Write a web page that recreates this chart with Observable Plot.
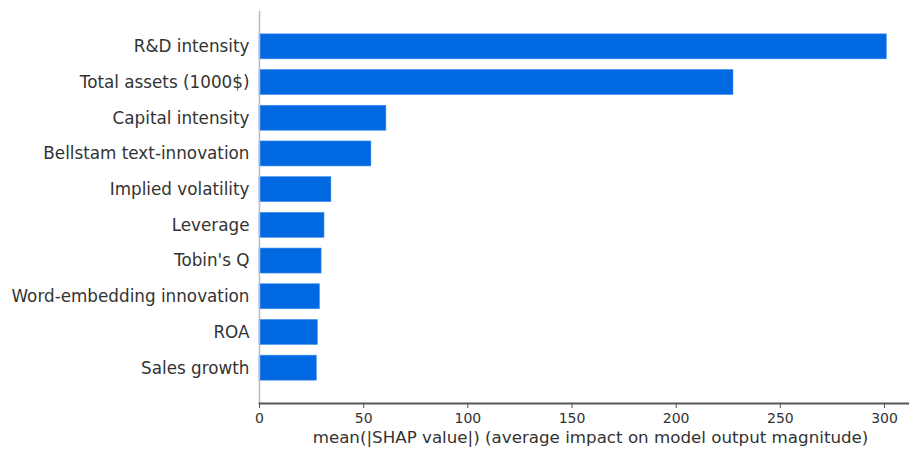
<!DOCTYPE html>
<html>
<head>
<meta charset="utf-8">
<script src="https://cdn.jsdelivr.net/npm/d3@7"></script>
<script src="https://cdn.jsdelivr.net/npm/@observablehq/plot@0.6"></script>
<style>
  html, body { margin: 0; padding: 0; background: white; }
</style>
</head>
<body>
<div id="chart"></div>
<script>
const features = [
  "R&D intensity",
  "Total assets (1000$)",
  "Capital intensity",
  "Bellstam text-innovation",
  "Implied volatility",
  "Leverage",
  "Tobin's Q",
  "Word-embedding innovation",
  "ROA",
  "Sales growth"
];
const values = [301.1, 227.5, 60.9, 53.7, 34.5, 31.2, 29.8, 29.0, 28.0, 27.5];
const xTicks = [0, 50, 100, 150, 200, 250, 300];
const xLabel = "mean(|SHAP value|) (average impact on model output magnitude)";

const data = features.map((f, i) => ({feature: f, value: values[i]}));

const chart = Plot.plot({
  width: 909,
  height: 452,
  marginLeft: 259,
  marginRight: 0,
  marginTop: 11,
  marginBottom: 49,
  style: {fontFamily: "DejaVu Sans", color: "#333", background: "white"},
  x: {domain: [0, 312]},
  y: {domain: features, paddingInner: 0.3, paddingOuter: 0.64, round: false},
  marks: [
    Plot.barX(data, {x: "value", y: "feature", fill: "#0068e0", stroke: "#3d8ff0", strokeWidth: 0.6}),
    Plot.ruleX([0], {stroke: "#bbbbbb", strokeWidth: 1.5}),
    Plot.frame({anchor: "bottom", stroke: "#555", strokeWidth: 2}),
    Plot.axisX({ticks: xTicks, tickSize: 5, tickPadding: 5, fontSize: 14, label: null, stroke: "#555"}),
    Plot.axisY({tickSize: 0, tickPadding: 10, fontSize: 16.8, label: null}),
    Plot.text([xLabel], {frameAnchor: "bottom", dy: 39, dx: 6, fontSize: 16.7, fill: "#333"})
  ]
});
document.getElementById("chart").appendChild(chart);
</script>
</body>
</html>
